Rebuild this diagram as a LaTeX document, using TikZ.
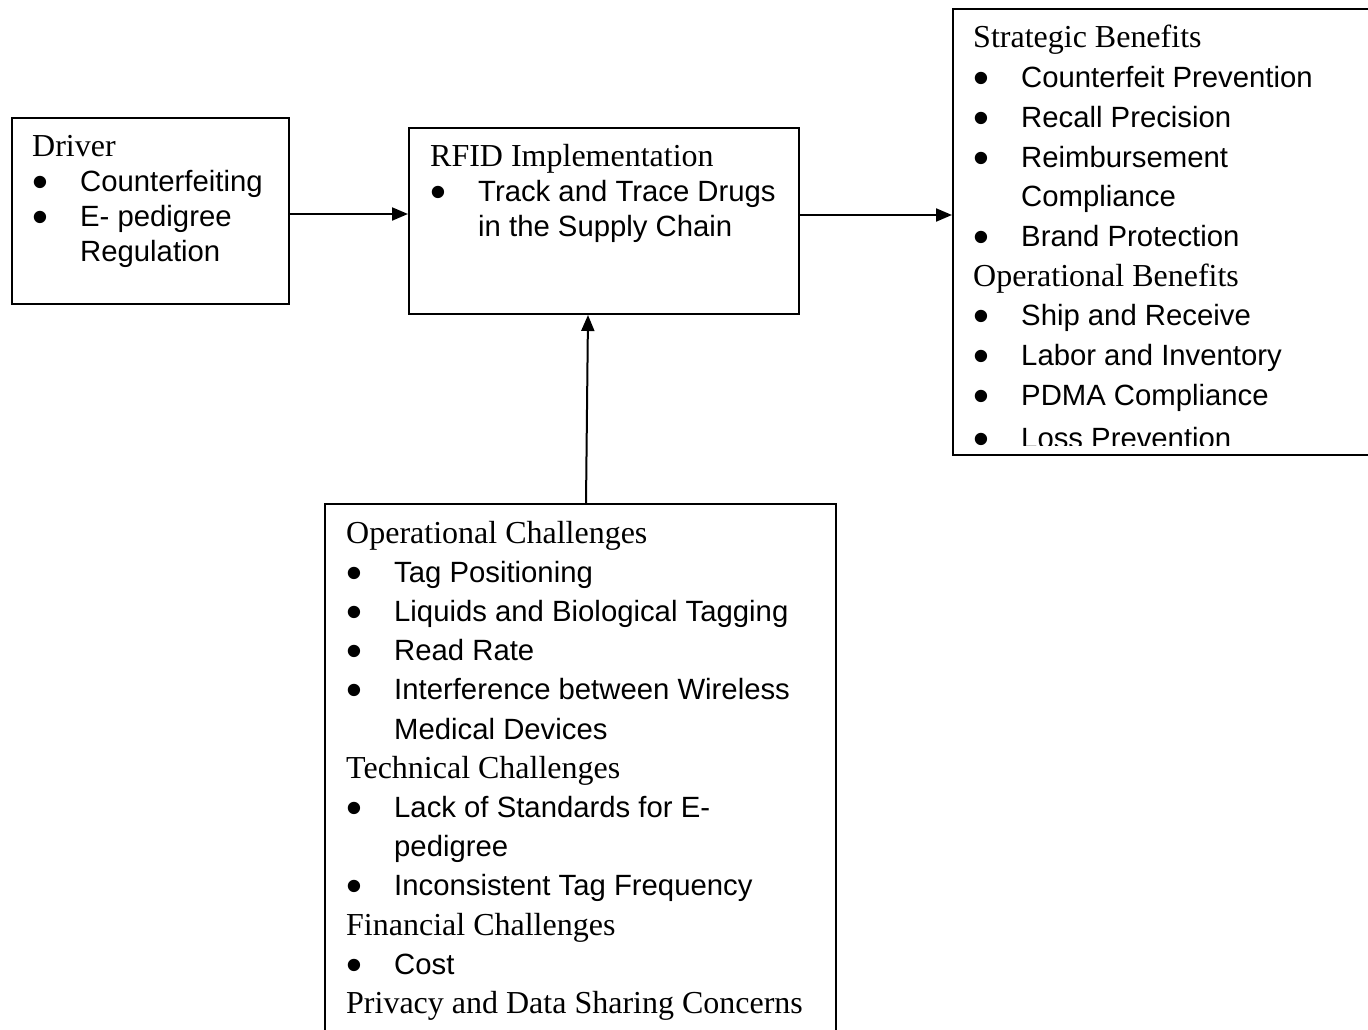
\documentclass[tikz,border=0pt]{standalone}
\usepackage{graphicx}
\usepackage{fontspec}
\setmainfont{Liberation Sans}
\newfontfamily\timesfont{Liberation Serif}[Scale=1.092]
\usetikzlibrary{arrows.meta}

\newcommand{\itm}[1]{\makebox[48pt][l]{\raisebox{-6pt}[0pt][0pt]{\scalebox{1.55}{\textbullet}}}#1}
\newcommand{\cont}[1]{\hspace*{48pt}#1}
\newcommand{\hd}[1]{{\timesfont #1}}

\begin{document}
\begin{tikzpicture}[x=1pt,y=-1pt,
  box/.style={draw,line width=2pt,anchor=north west,inner sep=0pt},
  txt/.style={anchor=base west,inner sep=0pt},
  arr/.style={line width=2pt,-{Triangle[length=16pt,width=13pt]}}]
\useasboundingbox (0,0) rectangle (1368,1030);

% boxes
\node[box,minimum width=277pt,minimum height=186pt] (driver) at (11,117) {};
\node[box,minimum width=390pt,minimum height=186pt] (rfid) at (408,127) {};
\node[box,minimum width=450pt,minimum height=446pt] (benefits) at (952,8) {};
\node[box,minimum width=511pt,minimum height=560pt] (challenges) at (324,503) {};

% texts
\node[txt,font=\fontsize{29.3pt}{35pt}\selectfont] (drivertext) at (32,157)
  {\begin{tabular}[t]{@{}l@{}}\hd{Driver}\\ \itm{Counterfeiting}\\ \itm{E- pedigree}\\ \cont{Regulation}\end{tabular}};

\node[txt,font=\fontsize{29.3pt}{35pt}\selectfont] (rfidtext) at (430,167)
  {\begin{tabular}[t]{@{}l@{}}\hd{RFID Implementation}\\ \itm{Track and Trace Drugs}\\ \cont{in the Supply Chain}\end{tabular}};

\begin{scope}
\clip (952,8) rectangle (1368,445);
\node[txt,font=\fontsize{29.3pt}{39.7pt}\selectfont] (benefitstext) at (973,48)
  {\begin{tabular}[t]{@{}l@{}}\hd{Strategic Benefits}\\ \itm{Counterfeit Prevention}\\ \itm{Recall Precision}\\
   \itm{Reimbursement}\\ \cont{Compliance}\\ \itm{Brand Protection}\\ \hd{Operational Benefits}\\
   \itm{Ship and Receive}\\ \itm{Labor and Inventory}\\ \itm{PDMA Compliance}\\[4pt] \itm{Loss Prevention}\end{tabular}};
\end{scope}

\node[txt,font=\fontsize{29.3pt}{39.2pt}\selectfont] (challengestext) at (346,543)
  {\begin{tabular}[t]{@{}l@{}}\hd{Operational Challenges}\\ \itm{Tag Positioning}\\ \itm{Liquids and Biological Tagging}\\
   \itm{Read Rate}\\ \itm{Interference between Wireless}\\ \cont{Medical Devices}\\ \hd{Technical Challenges}\\
   \itm{Lack of Standards for E-}\\ \cont{pedigree}\\ \itm{Inconsistent Tag Frequency}\\ \hd{Financial Challenges}\\
   \itm{Cost}\\ \hd{Privacy and Data Sharing Concerns}\end{tabular}};

% arrows
\draw[arr] ([yshift=-3pt]driver.east) -- ([yshift=-3pt]driver.east -| rfid.west);
\draw[arr] ([yshift=6pt]rfid.east) -- ([yshift=6pt]rfid.east -| benefits.west);
\draw[arr] ([xshift=5.5pt]challenges.north) -- ([xshift=-16pt]rfid.south);
\end{tikzpicture}
\end{document}
